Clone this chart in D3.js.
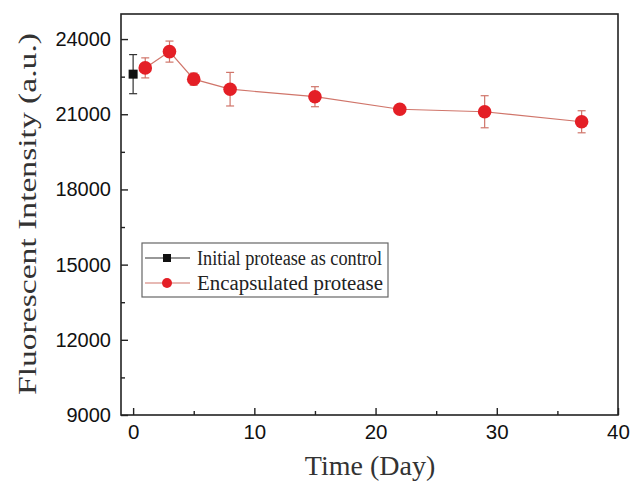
<!DOCTYPE html>
<html><head><meta charset="utf-8">
<script src="https://cdn.jsdelivr.net/npm/d3@7"></script>
<style>body{margin:0;background:#fff}svg{display:block}</style>
</head><body>
<svg id="c" width="632" height="481"></svg>
<script>
const days = [1, 3, 5, 8, 15, 22, 29, 37];
const encapsulated = [22850, 23500, 22400, 22000, 21700, 21200, 21100, 20700];
const encapsulatedErr = [400, 420, 240, 670, 400, 150, 640, 440];
const controlDay = [0];
const control = [22600];
const controlErr = [780];
const xTicks = [0, 10, 20, 30, 40];
const yTicks = [9000, 12000, 15000, 18000, 21000, 24000];
const legendLabels = ["Initial protease as control", "Encapsulated protease"];

const svg = d3.select("#c");
const L = 121, R = 618, T = 14, B = 415;
const x = d3.scaleLinear().domain([-1, 40]).range([L, R]);
const y = d3.scaleLinear().domain([9000, 25000]).range([B, T]);

// frame
svg.append("rect").attr("x", L).attr("y", T).attr("width", R - L).attr("height", B - T)
  .attr("fill", "none").attr("stroke", "#222").attr("stroke-width", 1.6);

const tickFont = "Liberation Sans, Arial, sans-serif";
// x axis
const xa = svg.append("g").attr("transform", `translate(0,${B})`)
  .call(d3.axisBottom(x).tickValues(xTicks).tickSizeInner(-7).tickSizeOuter(0).tickPadding(9));
xa.select(".domain").remove();
xa.selectAll("line").attr("stroke", "#222").attr("stroke-width", 1.4);
xa.selectAll("text").attr("font-family", tickFont).attr("font-size", 20.5).attr("fill", "#111");
svg.append("g").attr("transform", `translate(0,${B})`)
  .call(d3.axisBottom(x).tickValues([5, 15, 25, 35]).tickSizeInner(-4).tickSizeOuter(0).tickFormat(""))
  .call(g => { g.select(".domain").remove(); g.selectAll("line").attr("stroke", "#222").attr("stroke-width", 1.4); });

// y axis
const ya = svg.append("g").attr("transform", `translate(${L},0)`)
  .call(d3.axisLeft(y).tickValues(yTicks).tickSizeInner(-7).tickSizeOuter(0).tickPadding(10).tickFormat(d3.format("d")));
ya.select(".domain").remove();
ya.selectAll("line").attr("stroke", "#222").attr("stroke-width", 1.4);
ya.selectAll("text").attr("font-family", tickFont).attr("font-size", 20).attr("fill", "#111");
svg.append("g").attr("transform", `translate(${L},0)`)
  .call(d3.axisLeft(y).tickValues([10500, 13500, 16500, 19500, 22500]).tickSizeInner(-4).tickSizeOuter(0).tickFormat(""))
  .call(g => { g.select(".domain").remove(); g.selectAll("line").attr("stroke", "#222").attr("stroke-width", 1.4); });

// axis titles
svg.append("text").attr("x", 370).attr("y", 475).attr("text-anchor", "middle")
  .attr("font-family", "Liberation Serif, Times New Roman, serif").attr("font-size", 28).attr("fill", "#333")
  .text("Time (Day)");
svg.append("text").attr("transform", `translate(36,214) rotate(-90)`).attr("text-anchor", "middle")
  .attr("font-family", "Liberation Serif, Times New Roman, serif").attr("font-size", 26).attr("fill", "#333")
  .attr("textLength", 362).attr("lengthAdjust", "spacingAndGlyphs")
  .text("Fluorescent Intensity (a.u.)");

const red = "#e41f26", lineCol = "#d0756a", errCol = "#d0756a";

// encapsulated line
const encData = days.map((d, i) => ({ d, v: encapsulated[i], e: encapsulatedErr[i] }));
svg.append("path").datum(encData)
  .attr("d", d3.line().x(p => x(p.d)).y(p => y(p.v)))
  .attr("fill", "none").attr("stroke", lineCol).attr("stroke-width", 1.2);

function errBars(data, col) {
  const g = svg.append("g").attr("stroke", col).attr("stroke-width", 1.2);
  data.forEach(p => {
    g.append("line").attr("x1", x(p.d)).attr("x2", x(p.d)).attr("y1", y(p.v - p.e)).attr("y2", y(p.v + p.e));
    [p.v - p.e, p.v + p.e].forEach(v => g.append("line")
      .attr("x1", x(p.d) - 4).attr("x2", x(p.d) + 4).attr("y1", y(v)).attr("y2", y(v)));
  });
}
errBars(encData, errCol);
const ctlData = controlDay.map((d, i) => ({ d, v: control[i], e: controlErr[i] }));
errBars(ctlData, "#333");

svg.append("g").selectAll("circle").data(encData).join("circle")
  .attr("cx", p => x(p.d)).attr("cy", p => y(p.v)).attr("r", 6.8).attr("fill", red);
svg.append("g").selectAll("rect").data(ctlData).join("rect")
  .attr("x", p => x(p.d) - 4.5).attr("y", p => y(p.v) - 4.5).attr("width", 9).attr("height", 9).attr("fill", "#111");

// legend
const lg = svg.append("g");
lg.append("rect").attr("x", 142).attr("y", 243).attr("width", 246).attr("height", 54)
  .attr("fill", "#fff").attr("stroke", "#666").attr("stroke-width", 1.2);
legendLabels.forEach((t, i) => {
  const cy = 258 + i * 25;
  lg.append("line").attr("x1", 145).attr("x2", 190).attr("y1", cy).attr("y2", cy)
    .attr("stroke", i === 0 ? "#333" : lineCol).attr("stroke-width", 1.2);
  if (i === 0) lg.append("rect").attr("x", 163).attr("y", cy - 4).attr("width", 8).attr("height", 8).attr("fill", "#111");
  else lg.append("circle").attr("cx", 167).attr("cy", cy).attr("r", 5).attr("fill", red);
  lg.append("text").attr("x", 197).attr("y", cy + 7)
    .attr("font-family", "Liberation Serif, Times New Roman, serif").attr("font-size", 20.5).attr("fill", "#222")
    .attr("textLength", i === 0 ? 185 : 186).attr("lengthAdjust", "spacingAndGlyphs").text(t);
});
</script>
</body></html>
